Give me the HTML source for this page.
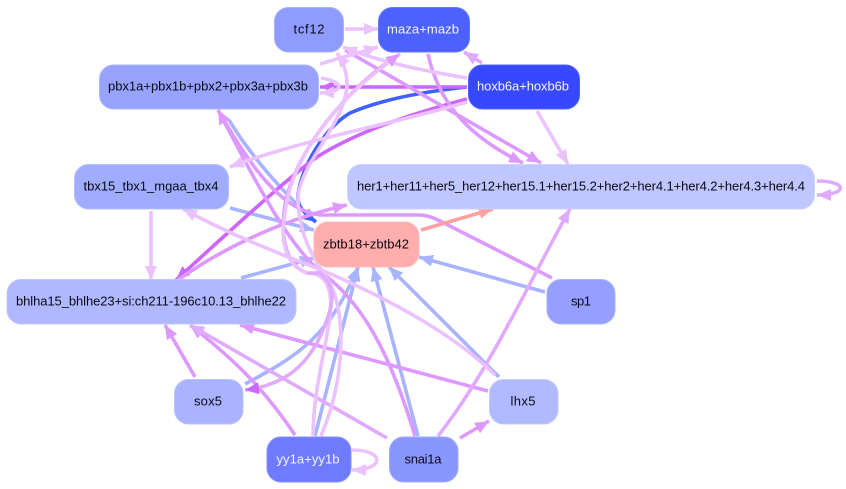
<!DOCTYPE html>
<html><head><meta charset="utf-8"><style>
html,body{margin:0;padding:0;background:#fff;width:846px;height:489px;overflow:hidden}
svg{display:block}
text{font-family:"Liberation Sans",sans-serif;font-size:13px;text-anchor:middle;fill:#0a0a14}
.w{fill:#f4f4ff}
.e{fill:none;stroke-width:3.6}
.l{stroke:#ebc2ff}.m{stroke:#dd99ff}.s{stroke:#cc66ff}.b{stroke:#a8b4ff}.d{stroke:#4060ff}.p{stroke:#ffa0a0}.n{stroke:#e0aaff}
</style></head><body>
<svg width="846" height="489" viewBox="0 0 846 489" xmlns="http://www.w3.org/2000/svg">
<defs>
<marker id="al" markerUnits="userSpaceOnUse" markerWidth="15" markerHeight="14" refX="14" refY="7" orient="auto"><path d="M0 1L14 7L0 13z" fill="#ebc2ff"/></marker>
<marker id="am" markerUnits="userSpaceOnUse" markerWidth="15" markerHeight="14" refX="14" refY="7" orient="auto"><path d="M0 1L14 7L0 13z" fill="#dd99ff"/></marker>
<marker id="an" markerUnits="userSpaceOnUse" markerWidth="15" markerHeight="14" refX="14" refY="7" orient="auto"><path d="M0 1L14 7L0 13z" fill="#e0aaff"/></marker>
<marker id="as" markerUnits="userSpaceOnUse" markerWidth="15" markerHeight="14" refX="14" refY="7" orient="auto"><path d="M0 1L14 7L0 13z" fill="#cc66ff"/></marker>
<marker id="ab" markerUnits="userSpaceOnUse" markerWidth="15" markerHeight="14" refX="14" refY="7" orient="auto"><path d="M0 1L14 7L0 13z" fill="#a8b4ff"/></marker>
<marker id="ad" markerUnits="userSpaceOnUse" markerWidth="15" markerHeight="14" refX="14" refY="7" orient="auto"><path d="M0 1L14 7L0 13z" fill="#4060ff"/></marker>
<marker id="ap" markerUnits="userSpaceOnUse" markerWidth="15" markerHeight="14" refX="14" refY="7" orient="auto"><path d="M0 1L14 7L0 13z" fill="#ffa0a0"/></marker>
</defs>

<!-- blue -->
<path class="e b" marker-end="url(#ab)" d="M229 120C250 155 285 195 316 222"/>
<path class="e b" marker-end="url(#ab)" d="M230 208C260 216 290 224 314 230"/>
<path class="e b" marker-end="url(#ab)" d="M241 278L314 258"/>
<path class="e b" marker-end="url(#ab)" d="M545 292L419 257"/>
<path class="e b" marker-end="url(#ab)" d="M499 377L389 267"/>
<path class="e b" marker-end="url(#ab)" d="M418 436L373 267"/>
<path class="e b" marker-end="url(#ab)" d="M315 436L358 267"/>
<path class="e b" marker-end="url(#ab)" d="M245 384C300 355 330 335 358 267"/>
<path class="e d" marker-end="url(#ad)" d="M467 87C420 92 380 100 350 113C325 128 302 165 298 195C297 205 302 212 316 222"/>

<!-- strong -->
<path class="e s" marker-end="url(#as)" d="M467 87L320 87"/>
<path class="e s" marker-end="url(#as)" d="M467 99C415 113 360 130 317 157C285 180 220 240 176 280"/>

<!-- mid -->
<path class="e n" marker-end="url(#an)" d="M482 63L464 52"/>
<path class="e m" marker-end="url(#am)" d="M345 50L541 163"/>
<path class="e m" marker-end="url(#am)" d="M428 54C438 100 465 135 523 163"/>
<path class="e m" marker-end="url(#am)" d="M552 278L440 221Q428 215 420 215L320 215C280 210 250 165 218 110"/>
<path class="e m" marker-end="url(#am)" d="M415 436C395 370 370 310 325 275C290 250 255 180 218 110"/>
<path class="e m" marker-end="url(#am)" d="M178 280C230 243 290 218 347 205"/>
<path class="e m" marker-end="url(#am)" d="M488 391L240 325"/>
<path class="e m" marker-end="url(#am)" d="M460 438L489 421"/>
<path class="e n" marker-end="url(#an)" d="M438 436C490 370 530 280 570 209"/>
<path class="e m" marker-end="url(#am)" d="M195 377L165 325"/>
<path class="e m" marker-end="url(#am)" d="M295 435C265 390 235 360 190 325"/>
<path class="e n" marker-end="url(#an)" d="M387 438L190 325"/>
<path class="e m" d="M307 273C285 265 280 235 285 205C295 150 350 85 400 54"/>
<path class="e p" marker-end="url(#ap)" d="M421 230L493 209"/>

<!-- light -->
<path class="e l" marker-end="url(#al)" d="M345 29L378 29"/>
<path class="e l" marker-end="url(#al)" d="M467 78C420 70 380 62 343 47"/>
<path class="e l" marker-end="url(#al)" d="M320 64L378 47"/>
<path class="e l" marker-end="url(#al)" d="M321 78C345 82 345 92 320 93"/>
<path class="e l" marker-end="url(#al)" d="M467 102C390 125 300 140 230 167"/>
<path class="e l" marker-end="url(#al)" d="M537 111L568 164"/>
<path class="e l" marker-end="url(#al)" d="M151 211L151 280"/>
<path class="e l" marker-end="url(#al)" d="M495 375C455 335 390 300 333 275C290 257 240 240 183 209"/>
<path class="e l" marker-end="url(#al)" d="M321 436C345 380 345 320 333 290C325 270 300 250 298 200C298 165 345 125 347 85C347 70 342 60 337 53"/>
<path class="e l" marker-end="url(#am)" d="M313 436C313 380 335 320 330 295C328 280 320 273 307 273C285 265 280 240 285 213C290 170 320 110 400 54"/>
<path class="e n" marker-end="url(#as)" d="M307 273L320 273C335 285 335 300 325 325C310 365 285 385 245 390"/>

<!-- self loops -->
<path class="e l" marker-end="url(#al)" d="M352 450C385 450 385 470 352 470"/>
<path class="e n" marker-end="url(#an)" d="M817 181C848 181 848 195 817 195"/>

<!-- nodes -->
<rect x="274.500" y="7.500" width="69" height="44.500" rx="14" fill="#8f9cff" stroke="#a5b0ff"/>
<rect x="378.500" y="7.500" width="91" height="44.500" rx="14" fill="#4d61ff" stroke="#6578ff"/>
<rect x="99.500" y="65" width="219" height="44" rx="14" fill="#97a3ff" stroke="#abb5ff"/>
<rect x="468.500" y="65" width="111" height="44" rx="14" fill="#3848ff" stroke="#5060ff"/>
<rect x="74.500" y="164.500" width="154" height="44.500" rx="14" fill="#a0acff" stroke="#b4beff"/>
<rect x="347.500" y="164.500" width="467" height="44.500" rx="14" fill="#c0c6ff" stroke="#ccd1ff"/>
<rect x="314" y="222" width="105" height="45" rx="14" fill="#ffadad" stroke="#ffbcbc"/>
<rect x="7" y="279.500" width="289" height="44.500" rx="14" fill="#b0b9ff" stroke="#c0c7ff"/>
<rect x="547" y="279.500" width="68" height="44.500" rx="14" fill="#959fff" stroke="#a9b2ff"/>
<rect x="174.500" y="379.500" width="68.500" height="44.500" rx="14" fill="#a9b3ff" stroke="#bbc3ff"/>
<rect x="489.500" y="379.500" width="68.500" height="44.500" rx="14" fill="#b2baff" stroke="#c2c9ff"/>
<rect x="267" y="437" width="84" height="45" rx="14" fill="#6e7bff" stroke="#8591ff"/>
<rect x="389.500" y="437" width="68.500" height="45" rx="14" fill="#8a96ff" stroke="#a0abff"/>

<text x="309" y="33.500" textLength="31" lengthAdjust="spacing">tcf12</text>
<text class="w" x="423" y="33.500" textLength="72" lengthAdjust="spacing">maza+mazb</text>
<text x="208" y="90.500" textLength="200" lengthAdjust="spacing">pbx1a+pbx1b+pbx2+pbx3a+pbx3b</text>
<text class="w" x="523" y="90.500" textLength="92" lengthAdjust="spacing">hoxb6a+hoxb6b</text>
<text x="151" y="190.500" textLength="135" lengthAdjust="spacing">tbx15_tbx1_mgaa_tbx4</text>
<text x="581" y="190.500" textLength="448" lengthAdjust="spacing">her1+her11+her5_her12+her15.1+her15.2+her2+her4.1+her4.2+her4.3+her4.4</text>
<text x="366" y="248.500" textLength="86" lengthAdjust="spacing">zbtb18+zbtb42</text>
<text x="151" y="305.500" textLength="270" lengthAdjust="spacing">bhlha15_bhlhe23+si:ch211-196c10.13_bhlhe22</text>
<text x="581" y="305.500" textLength="20" lengthAdjust="spacing">sp1</text>
<text x="208" y="405.500" textLength="28" lengthAdjust="spacing">sox5</text>
<text x="523" y="405.500" textLength="25" lengthAdjust="spacing">lhx5</text>
<text class="w" x="308" y="463.500" textLength="63" lengthAdjust="spacing">yy1a+yy1b</text>
<text x="423" y="463.500" textLength="37" lengthAdjust="spacing">snai1a</text>
</svg>
</body></html>
